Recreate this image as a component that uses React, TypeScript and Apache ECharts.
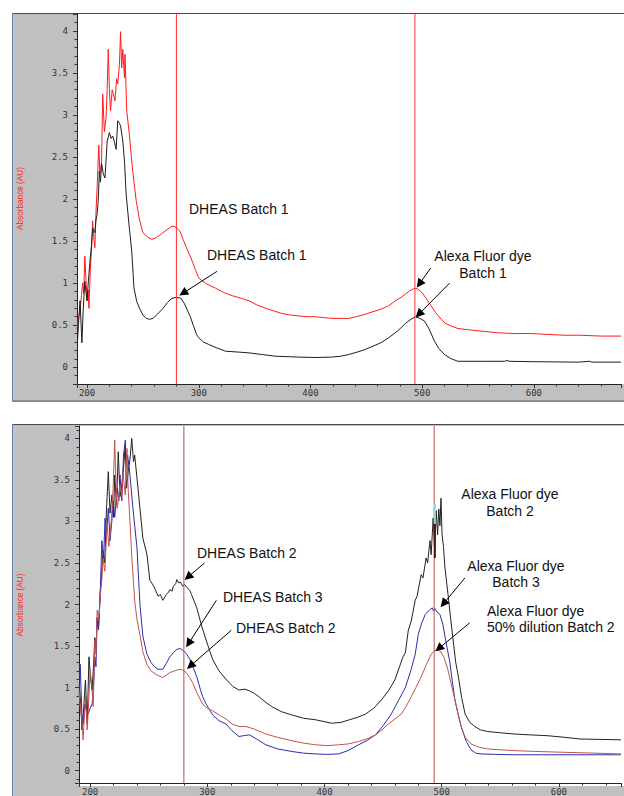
import React, { useEffect, useRef } from 'react';
import * as echarts from 'echarts';

// ---------- DATA (wavelength nm, absorbance AU) ----------
const topBatch1Red: [number, number][] = [
  [191,0.46],[192.5,0.60],[193.7,0.67],[195,0.85],[196,1.0],[197,0.88],[198,1.32],[199,1.05],[200,0.79],[201,0.92],[201.7,0.70],[203,1.18],[204,1.40],[205,1.74],[206,1.55],[207,1.42],[208,1.85],[209,2.13],[210.5,2.64],[211.5,2.30],[213,2.43],[214,3.25],[215.5,2.80],[217,2.96],[218,3.30],[219,3.78],[220,3.30],[221,3.05],[222.5,3.30],[223.5,3.25],[225,3.17],[226.5,3.43],[227.5,3.37],[229,3.60],[230,3.99],[231,3.56],[232,3.78],[233.5,3.44],[234,3.72],[235.5,3.05],[238,2.75],[240,2.45],[242,2.20],[244,1.98],[247,1.75],[250,1.60],[254,1.55],[258,1.52],[262,1.54],[266,1.58],[270,1.62],[274,1.66],[277,1.68],[280,1.66],[283,1.62],[286,1.52],[289,1.42],[293,1.30],[297,1.16],[300,1.06],[307,0.99],[315,0.94],[322,0.89],[330,0.85],[338,0.82],[345,0.79],[352,0.74],[360,0.70],[367,0.67],[374,0.64],[382,0.62],[389,0.61],[397,0.60],[404,0.60],[412,0.59],[419,0.58],[427,0.58],[434,0.58],[441,0.60],[449,0.63],[456,0.66],[463,0.69],[470,0.73],[476,0.79],[481,0.83],[485,0.87],[489,0.91],[493.5,0.94],[496,0.93],[499,0.90],[503,0.83],[508,0.73],[512,0.65],[517,0.57],[521,0.52],[526,0.49],[532,0.46],[538,0.45],[552,0.43],[567,0.41],[582,0.40],[597,0.40],[612,0.39],[627,0.38],[641,0.38],[660,0.37],[678,0.37]
];

const topBatch1Black: [number, number][] = [
  [191.5,0.31],[192.5,0.55],[193.7,0.79],[195.4,0.29],[196.5,0.67],[198,1.02],[199,0.90],[200,0.79],[201,0.99],[202.6,1.26],[204,1.45],[205,1.65],[207,1.60],[208,1.75],[209,1.82],[210,1.98],[211,2.33],[212,2.20],[213,2.42],[214.5,2.30],[216,2.25],[217,2.45],[218,2.69],[220,2.79],[221.5,2.72],[223,2.75],[224.5,2.68],[226,2.59],[227.5,2.93],[229,2.90],[230,2.87],[232,2.69],[233.5,2.45],[235,2.06],[237.5,1.70],[240,1.38],[242,0.94],[244.5,0.78],[247,0.70],[250,0.62],[253,0.58],[256,0.57],[259,0.58],[263,0.63],[268,0.70],[272,0.77],[276,0.82],[280,0.83],[284,0.82],[287,0.76],[290,0.67],[292.5,0.60],[295,0.50],[298,0.39],[300,0.35],[304,0.30],[309,0.27],[316,0.23],[324,0.19],[335,0.18],[345,0.17],[357,0.15],[369,0.13],[380,0.125],[389,0.12],[405,0.115],[419,0.12],[427,0.13],[434,0.15],[442,0.18],[449,0.21],[456,0.25],[463,0.29],[470,0.35],[478,0.43],[485,0.52],[490,0.57],[494,0.60],[498,0.58],[502,0.55],[506,0.46],[511,0.31],[515,0.22],[520,0.15],[526,0.10],[532,0.07],[552,0.07],[574,0.07],[576,0.08],[578,0.07],[600,0.065],[640,0.06],[650,0.07],[652,0.06],[678,0.06]
];

const bottomBatch2Black: [number, number][] = [
  [190.7,1.04],[192,0.80],[193,0.49],[194.5,0.75],[196,1.09],[197.5,0.56],[199,1.37],[200.5,1.10],[201.7,0.97],[203,1.30],[204,1.60],[205,1.45],[206,1.84],[207.2,1.70],[208.5,2.14],[210,2.40],[211,2.65],[212.5,2.50],[214,3.16],[215.5,3.60],[217,3.10],[218.6,3.32],[220,3.05],[221,3.56],[222.5,3.20],[224,3.84],[225.5,3.30],[227,3.44],[228.5,3.65],[230,3.92],[231,3.40],[232.5,3.60],[234,3.75],[235.5,4.0],[237,3.72],[238,3.80],[240,3.52],[242.5,3.16],[245,2.80],[248.5,2.60],[251,2.29],[253,2.25],[255,2.20],[258,2.10],[260,2.12],[262,2.05],[265,2.12],[267,2.15],[268,2.18],[270,2.16],[271,2.22],[273,2.25],[274,2.30],[275.5,2.26],[277,2.27],[279,2.22],[280.6,2.24],[283,2.20],[285,2.17],[286.5,2.12],[291,1.96],[295,1.75],[299,1.57],[304.5,1.34],[310,1.20],[316.5,1.09],[322,1.01],[327,0.97],[332,0.98],[336,0.96],[340,0.93],[344,0.89],[350,0.82],[355,0.77],[363,0.71],[372,0.67],[382,0.63],[393,0.61],[406,0.57],[414,0.58],[421,0.61],[428,0.64],[435,0.68],[442,0.75],[448.5,0.85],[455,0.97],[460,1.09],[464,1.25],[467,1.37],[469,1.42],[471.5,1.69],[474,1.80],[477.4,2.05],[479,2.10],[482.5,2.36],[484,2.32],[486.7,2.56],[488,2.50],[490,2.77],[491,2.60],[492.7,3.04],[494,2.65],[495.3,3.13],[496.5,2.84],[497.5,3.15],[498.5,2.95],[499.4,3.28],[500.3,2.84],[501.5,2.70],[502.8,2.44],[505.4,2.12],[507.5,1.85],[509.5,1.60],[512,1.30],[514,1.15],[517,0.88],[520,0.68],[524,0.58],[528.3,0.53],[533,0.49],[539.3,0.47],[550,0.455],[562,0.44],[575,0.43],[590,0.42],[605,0.40],[618,0.38],[635,0.375],[653,0.37]
];

const bottomBatch3Blue: [number, number][] = [
  [190.7,0.89],[191.5,1.28],[193,0.68],[194,0.56],[195.5,0.80],[196.6,0.73],[198.3,0.68],[200,0.75],[201.7,0.80],[203,1.05],[204,1.37],[205,1.25],[206,1.84],[207,1.70],[208.5,2.08],[210,2.77],[211.5,2.55],[212.7,3.04],[214,2.85],[215.5,3.16],[217,2.77],[218.5,3.00],[219.6,3.25],[221,3.05],[223,3.40],[224.5,3.25],[225.5,3.56],[227,3.25],[228.5,3.80],[230,3.98],[231,3.70],[232,3.80],[234,3.56],[236.5,3.16],[240,2.68],[242.5,2.00],[245,1.62],[248.5,1.40],[252,1.30],[255,1.25],[258,1.22],[262,1.22],[265,1.29],[268,1.37],[271,1.42],[274,1.46],[277,1.47],[279,1.45],[282,1.41],[285,1.34],[288,1.24],[291,1.13],[294,0.98],[296,0.89],[299,0.80],[302,0.73],[304.5,0.67],[310,0.60],[316,0.56],[321,0.48],[327,0.41],[331,0.42],[336,0.43],[342,0.38],[350,0.31],[360,0.26],[372,0.23],[382,0.21],[392.6,0.20],[402,0.195],[412,0.20],[420,0.24],[429,0.31],[436,0.36],[443.5,0.43],[450,0.54],[457,0.68],[463,0.84],[469,1.00],[474,1.22],[477.4,1.40],[480,1.64],[483,1.78],[486,1.88],[490,1.94],[492,1.96],[493,1.92],[494.4,1.95],[496,1.91],[498.5,1.88],[501,1.76],[503,1.60],[505,1.45],[507,1.30],[509,1.08],[511.3,0.85],[514,0.68],[516.6,0.53],[521,0.35],[525,0.25],[529,0.21],[533.4,0.20],[545,0.195],[562,0.19],[600,0.19],[653,0.19]
];

const bottomDilutionRed: [number, number][] = [
  [190.7,0.95],[191.5,0.77],[193,0.60],[194,0.37],[196,0.89],[197.5,0.49],[199,0.90],[200,1.21],[201.5,1.00],[202.6,0.77],[204,1.57],[205,1.40],[206,1.93],[207.5,1.80],[208.5,2.08],[210,2.30],[211,2.56],[212.5,2.40],[214.5,2.96],[216,2.70],[217,2.84],[218.5,3.10],[219.6,3.40],[221,3.98],[222,3.50],[223,3.16],[224.5,3.30],[225.5,3.44],[227,3.30],[228,3.60],[229,3.45],[230,3.32],[231.4,3.88],[232.5,3.37],[234,3.00],[235.6,2.56],[238.2,2.02],[240,1.82],[242.4,1.64],[245,1.43],[248.4,1.28],[252,1.20],[257,1.15],[262,1.12],[265,1.15],[268,1.18],[272,1.20],[276.4,1.22],[279,1.21],[282,1.18],[285,1.12],[287.4,1.06],[291,0.94],[296,0.80],[300,0.75],[304.6,0.72],[310,0.67],[316,0.62],[321.3,0.56],[327,0.53],[333,0.53],[340,0.50],[350,0.44],[360,0.40],[372,0.36],[382,0.33],[392.6,0.31],[402,0.30],[412,0.31],[420,0.32],[429,0.35],[436,0.38],[443.5,0.43],[449,0.49],[454.4,0.56],[460,0.62],[465.5,0.68],[470,0.78],[474,0.89],[478,1.00],[482.5,1.13],[487,1.28],[491,1.40],[494.4,1.45],[497,1.45],[499.4,1.43],[502,1.36],[505.4,1.21],[508,1.05],[511.3,0.85],[514,0.68],[516.6,0.53],[520,0.40],[525,0.32],[532,0.28],[539.3,0.26],[550,0.25],[562,0.24],[580,0.23],[604.6,0.22],[630,0.21],[653,0.20]
];

// artefact segments at the Alexa peak (bottom panel)
const bottomCyanSegment: [number, number][] = [[494.2,3.22],[494.2,2.97]];
const bottomDarkSegment: [number, number][] = [[494.2,2.97],[494.2,2.56]];

const markerWavelengthsTop = [280, 493.5];
const markerWavelengthsBottom = [280, 493.6];

// axis extents
const topXRange = [191, 678];
const topYRange = [-0.2, 4.2];
const botXRange = [190.5, 653];
const botYRange = [-0.15, 4.15];

// annotation arrows: [from, to] in (nm, AU)
const arrowsTop: [number, number][][] = [
  [[316.4,1.14],[286.0,0.88]],
  [[507.7,1.18],[497.5,0.99]],
  [[524.6,1.00],[497.0,0.63]],
];
const arrowsBottom: [number, number][][] = [
  [[297.6,2.50],[283.5,2.33]],
  [[307.7,2.05],[284.0,1.53]],
  [[320.5,1.69],[285.5,1.26]],
  [[519.8,2.32],[501.5,2.01]],
  [[524.0,1.78],[497.5,1.47]],
];

const yTitle = 'Absorbance (AU)';

// ---------- STYLE / LAYOUT ----------
const ANNOT_FONT = 'Liberation Sans, Arial, sans-serif';
const TICK_FONT = 'DejaVu Sans Mono, monospace';

const gridTop = { left: 77, top: 14, width: 547, height: 370 };
const gridBot = { left: 79, top: 426, width: 545, height: 360 };

function yFmt(v: number) {
  return Math.abs(v * 2 - Math.round(v * 2)) < 1e-6 ? String(+v.toFixed(1)) : '';
}
function xFmt(v: number) {
  return Math.abs(v / 100 - Math.round(v / 100)) < 1e-6 ? String(Math.round(v)) : '';
}

function axisCommon(kind: 'x' | 'y') {
  return {
    type: 'value' as const,
    splitLine: { show: false },
    axisLine: { show: true, onZero: false, lineStyle: { color: '#222', width: 1 } },
    axisTick: { show: true, inside: false, length: 4, lineStyle: { color: '#333', width: 1 } },
    minorTick: { show: true, splitNumber: 5, length: 2.5, lineStyle: { color: '#333', width: 1 } },
    axisLabel: {
      show: true,
      fontFamily: TICK_FONT,
      fontSize: 9,
      color: '#333',
      margin: kind === 'y' ? 9 : 4,
      formatter: kind === 'y' ? yFmt : xFmt,
    },
  };
}

function text(str: string, x: number, y: number, align: 'left' | 'center' = 'left') {
  return {
    type: 'text',
    x,
    y,
    z: 50,
    silent: true,
    style: {
      text: str,
      fill: '#111',
      fontFamily: ANNOT_FONT,
      fontSize: 14,
      align,
      verticalAlign: 'middle',
    },
  };
}

function panelGraphics(top: number, bottom: number, grid: { left: number; top: number; width: number; height: number }) {
  return [
    { type: 'rect', z: -20, silent: true, shape: { x: 12, y: top, width: 620, height: bottom - top }, style: { fill: '#c0c0c0' } },
    { type: 'rect', z: -19, silent: true, shape: { x: grid.left, y: grid.top, width: grid.width, height: grid.height }, style: { fill: '#ffffff' } },
    { type: 'line', z: -18, silent: true, shape: { x1: 12, y1: top + 0.5, x2: 624, y2: top + 0.5 }, style: { stroke: '#4a4a4a', lineWidth: 1 } },
    { type: 'line', z: -18, silent: true, shape: { x1: 12.5, y1: top, x2: 12.5, y2: bottom }, style: { stroke: '#6f7f90', lineWidth: 1 } },
    { type: 'line', z: -18, silent: true, shape: { x1: 14.5, y1: top + 1, x2: 14.5, y2: bottom }, style: { stroke: '#b4c6da', lineWidth: 3 } },
  ];
}

function yTitleText(cy: number) {
  return {
    type: 'text',
    x: 20,
    y: cy,
    rotation: Math.PI / 2,
    z: 50,
    silent: true,
    style: {
      text: yTitle,
      fill: '#ff2a2a',
      fontFamily: ANNOT_FONT,
      fontSize: 8.2,
      align: 'center',
      verticalAlign: 'middle',
    },
  };
}

function lineSeries(data: [number, number][], color: string, idx: number, extra: any = {}) {
  return {
    type: 'line',
    xAxisIndex: idx,
    yAxisIndex: idx,
    data,
    symbol: 'none',
    showSymbol: false,
    silent: true,
    clip: true,
    itemStyle: { color },
    lineStyle: { color, width: 1 },
    z: 3,
    ...extra,
  };
}

function verticalSeries(values: number[], yRange: number[], color: string, idx: number) {
  return values.map((v) =>
    lineSeries(
      [[v, yRange[0]], [v, yRange[1]]],
      color,
      idx,
      { z: 5 }
    )
  );
}

function arrowMarks(arrows: [number, number][][]) {
  const ls = { color: '#000', width: 1, type: 'solid' };
  return {
    silent: true,
    symbol: ['none', 'triangle'],
    symbolSize: 9,
    label: { show: false },
    lineStyle: ls,
    itemStyle: { color: '#000' },
    emphasis: { disabled: true },
    data: arrows.map(([a, b]) => [
      { coord: a, lineStyle: ls, itemStyle: { color: '#000' } },
      { coord: b, lineStyle: ls, itemStyle: { color: '#000' } },
    ]),
  };
}

export default function App() {
  const ref = useRef<HTMLDivElement>(null);

  useEffect(() => {
    if (!ref.current) return;
    const chart = echarts.init(ref.current, null, { renderer: 'svg' });

    const option: any = {
      animation: false,
      backgroundColor: '#ffffff',
      grid: [
        { ...gridTop, containLabel: false },
        { ...gridBot, containLabel: false },
      ],
      xAxis: [
        { ...axisCommon('x'), gridIndex: 0, min: topXRange[0], max: topXRange[1], splitNumber: 5 },
        { ...axisCommon('x'), gridIndex: 1, min: botXRange[0], max: botXRange[1], splitNumber: 5 },
      ],
      yAxis: [
        { ...axisCommon('y'), gridIndex: 0, min: topYRange[0], max: topYRange[1], splitNumber: 8 },
        { ...axisCommon('y'), gridIndex: 1, min: botYRange[0], max: botYRange[1], splitNumber: 8 },
      ],
      graphic: [
        ...panelGraphics(13, 402, gridTop),
        { type: 'line', z: -18, silent: true, shape: { x1: 12, y1: 401, x2: 624, y2: 401 }, style: { stroke: '#8c8c8c', lineWidth: 2 } },
        ...panelGraphics(424, 800, gridBot),
        yTitleText(198.5),
        yTitleText(605),
        text('DHEAS Batch 1', 189, 209),
        text('DHEAS Batch 1', 207, 255),
        text('Alexa Fluor dye', 483, 256, 'center'),
        text('Batch 1', 483, 272.5, 'center'),
        text('DHEAS Batch 2', 197, 553),
        text('DHEAS Batch 3', 223, 597),
        text('DHEAS Batch 2', 236, 628),
        text('Alexa Fluor dye', 510, 494, 'center'),
        text('Batch 2', 510, 510.5, 'center'),
        text('Alexa Fluor dye', 516, 566, 'center'),
        text('Batch 3', 516, 582, 'center'),
        text('Alexa Fluor dye', 487, 611),
        text('50% dilution Batch 2', 487, 627),
      ],
      series: [
        lineSeries(topBatch1Red, '#ff1a1a', 0),
        lineSeries(topBatch1Black, '#1e1e1e', 0, { markLine: arrowMarks(arrowsTop) }),
        ...verticalSeries(markerWavelengthsTop, topYRange, '#ff3030', 0),
        lineSeries(bottomBatch2Black, '#222222', 1, { markLine: arrowMarks(arrowsBottom) }),
        lineSeries(bottomBatch3Blue, '#2c2cae', 1),
        lineSeries(bottomDilutionRed, '#c4524e', 1),
        ...verticalSeries(markerWavelengthsBottom, botYRange, '#b4504c', 1),
        lineSeries(bottomCyanSegment, '#86e0e0', 1, { lineStyle: { color: '#86e0e0', width: 2 }, z: 6 }),
        lineSeries(bottomDarkSegment, '#5a1414', 1, { lineStyle: { color: '#5a1414', width: 2 }, z: 6 }),
      ],
    };

    chart.setOption(option);
    return () => chart.dispose();
  }, []);

  return (
    <div
      ref={ref}
      style={{ position: 'absolute', left: 0, top: 0, width: 624, height: 796 }}
    />
  );
}
